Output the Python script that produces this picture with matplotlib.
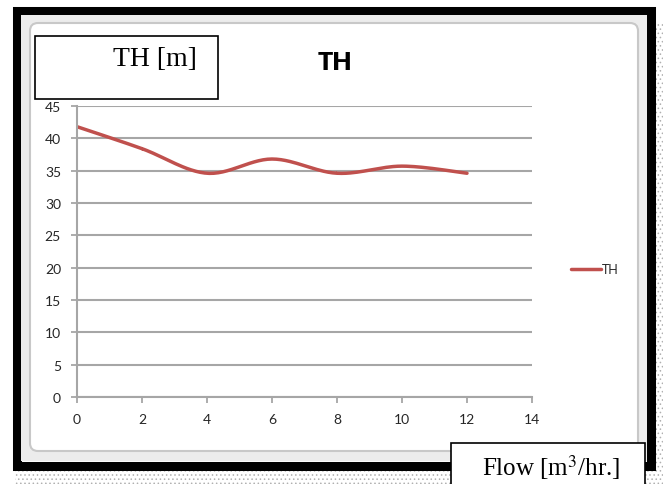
import numpy as np
import matplotlib
matplotlib.use("Agg")
import matplotlib.pyplot as plt
from matplotlib.patches import Rectangle, FancyBboxPatch

# data
flow = [0, 2, 4, 6, 8, 10, 12]
th = [41.8, 38.4, 34.6, 36.8, 34.6, 35.7, 34.6]
x_ticks = [0, 2, 4, 6, 8, 10, 12, 14]
y_ticks = [0, 5, 10, 15, 20, 25, 30, 35, 40, 45]


def smooth(xs, ys, n=30):
    # catmull-rom curve through the points, like excel "smoothed line"
    p = np.column_stack([xs, ys]).astype(float)
    p = np.vstack([p[0], p, p[-1]])
    out = []
    for i in range(1, len(p) - 2):
        p0, p1, p2, p3 = p[i - 1], p[i], p[i + 1], p[i + 2]
        t = np.linspace(0, 1, n)[:, None]
        c = 0.5 * ((2 * p1) + (-p0 + p2) * t + (2 * p0 - 5 * p1 + 4 * p2 - p3) * t ** 2
                   + (-p0 + 3 * p1 - 3 * p2 + p3) * t ** 3)
        out.append(c)
    c = np.vstack(out)
    return c[:, 0], c[:, 1]


W, H = 663, 485
fig = plt.figure(figsize=(W / 100, H / 100), dpi=100)

# background layer in pixel coordinates
bg = fig.add_axes([0, 0, 1, 1])
bg.set_xlim(0, W)
bg.set_ylim(H, 0)
bg.axis("off")
# dotted shadow
plt.rcParams["hatch.linewidth"] = 0.6
bg.add_patch(Rectangle((655, 25), 8, 460, facecolor="white", edgecolor="#b0b0b0",
                       hatch="....", lw=0))
bg.add_patch(Rectangle((15, 471), 648, 14, facecolor="white", edgecolor="#b0b0b0",
                       hatch="....", lw=0))
# thick black frame
bg.add_patch(Rectangle((17, 11.5), 634, 455, facecolor="none", edgecolor="black", lw=6.5))
# chart area border
bg.add_patch(Rectangle((21, 16), 626, 446, facecolor="#ececec", edgecolor="none"))
bg.add_patch(FancyBboxPatch((30, 24), 608, 428, boxstyle="round,pad=0,rounding_size=8",
                            facecolor="white", edgecolor="#c8c8c8", lw=1.5))

# annotation box behind the y labels
bg.add_patch(Rectangle((35, 37), 183, 63, facecolor="white", edgecolor="black", lw=1.2))
bg.text(155, 60, "TH [m]", ha="center", va="center", fontsize=20,
        family="Liberation Serif", color="black")

ax = fig.add_axes([77 / W, 1 - 398 / H, 455 / W, 291 / H])
ax.patch.set_alpha(0)
sx, sy = smooth(flow, th)
ax.plot(sx, sy, color="#c0504d", lw=2.5, label="TH", solid_capstyle="round")
ax.set_xlim(0, 14)
ax.set_ylim(0, 45)
ax.set_xticks(x_ticks)
ax.set_yticks(y_ticks)
ax.grid(axis="y", color="#a6a6a6", lw=1.5)
ax.set_axisbelow(True)
for s in ["top", "right"]:
    ax.spines[s].set_visible(False)
for s in ["left", "bottom"]:
    ax.spines[s].set_color("#a6a6a6")
    ax.spines[s].set_linewidth(1.5)
ax.tick_params(colors="#a6a6a6", labelcolor="#262626", length=4.5, width=1.3,
               labelsize=10, pad=7)
for lab in ax.get_xticklabels() + ax.get_yticklabels():
    lab.set_family("Lato")

leg = ax.legend(loc="center left", bbox_to_anchor=(1.06, 0.44), frameon=False,
                handlelength=2.4, handletextpad=0.1, prop={"family": "Lato", "size": 9})
for t in leg.get_texts():
    t.set_color("#262626")

# title
fig.text(335 / W, 1 - 63 / H, "TH", ha="center", va="center", fontsize=18,
         fontweight="heavy", family="Lato", color="black")

# x label box, drawn over the frame
fig.patches.append(Rectangle((451 / W, 1 - 489 / H), 194 / W, 45 / H, transform=fig.transFigure,
                             facecolor="white", edgecolor="black", lw=1.2, zorder=5))
fig.text(551 / W, 1 - 468 / H, r"Flow [m$^3$/hr.]", ha="center", va="center", fontsize=18,
         family="Liberation Serif", color="black", math_fontfamily="stix", zorder=6)

fig.savefig("out.png", dpi=100)
